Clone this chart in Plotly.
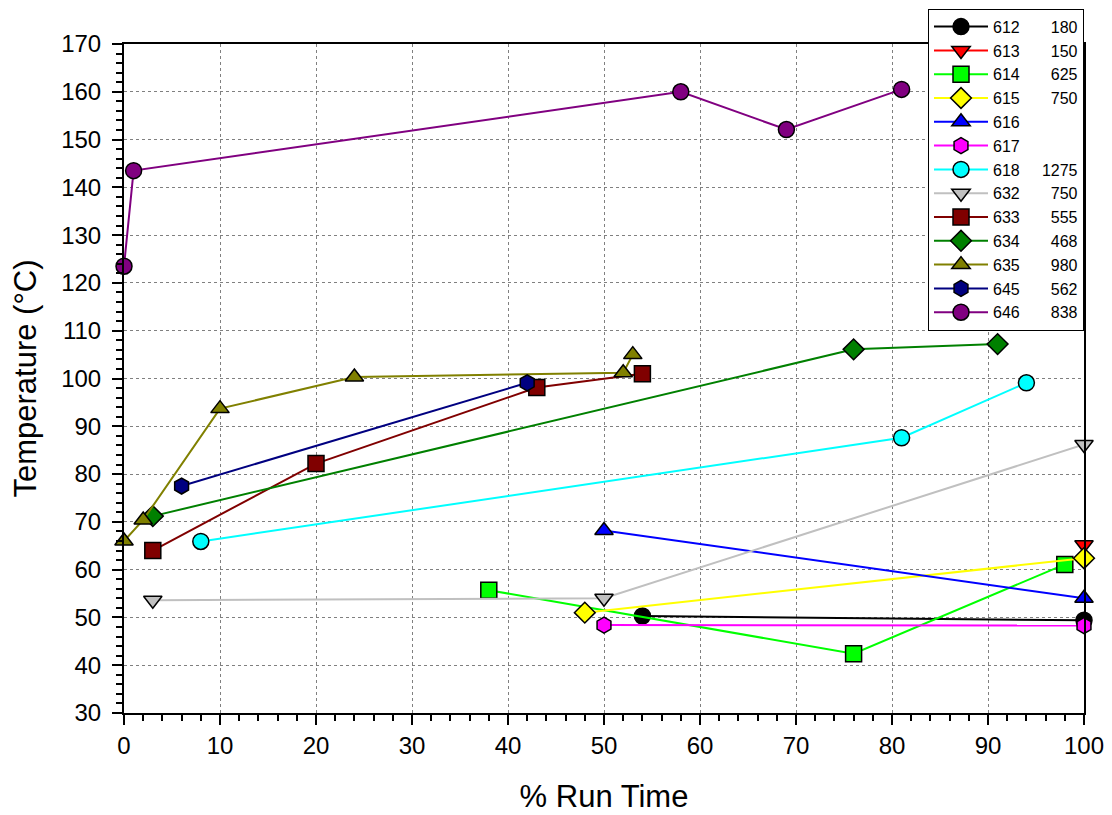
import plotly.graph_objects as go

# ---- data ----
ids = ["612", "613", "614", "615", "616", "617", "618", "632", "633", "634", "635", "645", "646"]
extra = ["180", "150", "625", "750", "", "", "1275", "750", "555", "468", "980", "562", "838"]

x612 = [54, 100];            y612 = [50.3, 49.4]
x613 = [100];                y613 = [65.2]
x614 = [38, 76, 98];         y614 = [55.7, 42.4, 61.1]
x615 = [48, 100];            y615 = [51.0, 62.4]
x616 = [50, 100];            y616 = [68.2, 54.0]
x617 = [50, 100];            y617 = [48.4, 48.3]
x618 = [8, 81, 94];          y618 = [65.9, 87.6, 99.1]
x632 = [3, 50, 100];         y632 = [53.6, 54.0, 86.2]
x633 = [3, 20, 43, 54];      y633 = [64.0, 82.2, 98.1, 101.0]
x634 = [3, 76, 91];          y634 = [71.2, 106.1, 107.2]
x635 = [0, 2, 10, 24, 52, 53]; y635 = [66.0, 70.4, 93.7, 100.3, 101.2, 105.0]
x645 = [6, 42];              y645 = [77.5, 99.1]
x646 = [0, 1, 58, 69, 81];   y646 = [123.5, 143.5, 160.0, 152.1, 160.5]

xs = [x612, x613, x614, x615, x616, x617, x618, x632, x633, x634, x635, x645, x646]
ys = [y612, y613, y614, y615, y616, y617, y618, y632, y633, y634, y635, y645, y646]

colors = ["#000000", "#FF0000", "#00FF00", "#FFFF00", "#0000FF", "#FF00FF", "#00FFFF",
          "#C0C0C0", "#800000", "#008000", "#808000", "#000080", "#800080"]
symbols = ["circle", "triangle-down", "square", "diamond", "triangle-up", "hexagon", "circle",
           "triangle-down", "square", "diamond", "triangle-up", "hexagon", "circle"]

FONT = "Liberation Sans, Arial, sans-serif"
FS = "\u2007"  # figure space (digit width)

fig = go.Figure()
for i in range(len(ids)):
    name = ids[i] + "\u00a0" * 5 + extra[i].rjust(4, FS) if extra[i] else ids[i]
    fig.add_trace(go.Scatter(
        x=xs[i], y=ys[i], mode="lines+markers", name=name, cliponaxis=False,
        line=dict(color=colors[i], width=2),
        marker=dict(symbol=symbols[i], size=16, color=colors[i],
                    line=dict(color="black", width=1.5)),
    ))

fig.update_layout(
    width=1112, height=815,
    margin=dict(l=116, r=36, t=0, b=110),
    paper_bgcolor="white", plot_bgcolor="white",
    font=dict(family=FONT, color="black"),
    showlegend=True,
    legend=dict(
        x=1.0, xanchor="right", y=0.999, yanchor="top",
        bgcolor="white", bordercolor="black", borderwidth=1,
        font=dict(size=16, family=FONT, color="black"),
        tracegroupgap=0, itemwidth=54,
    ),
)

fig.update_xaxes(
    range=[0, 100], tickmode="linear", tick0=0, dtick=10,
    automargin=False,
    showline=True, linecolor="black", linewidth=2, mirror=True,
    ticks="outside", ticklen=10, tickwidth=2, tickcolor="black",
    minor=dict(dtick=2, ticks="outside", ticklen=6, tickwidth=2, tickcolor="black", showgrid=False),
    showgrid=True, gridcolor="#808080", griddash="dot", gridwidth=1,
    zeroline=False,
    tickfont=dict(size=24, family=FONT, color="black"),
    title=dict(text="% Run Time", font=dict(size=31, family=FONT, color="black"), standoff=28),
)
fig.update_yaxes(
    domain=[0, 669 / 705],
    range=[30, 170], tickmode="linear", tick0=30, dtick=10,
    automargin=False,
    showline=True, linecolor="black", linewidth=2, mirror=True,
    ticks="outside", ticklen=10, tickwidth=2, tickcolor="black",
    minor=dict(dtick=2, ticks="outside", ticklen=6, tickwidth=2, tickcolor="black", showgrid=False),
    showgrid=True, gridcolor="#808080", griddash="dot", gridwidth=1,
    zeroline=False, ticklabelstandoff=6,
    tickfont=dict(size=24, family=FONT, color="black"),
    title=dict(text="Temperature (°C)", font=dict(size=31, family=FONT, color="black"), standoff=16),
)

fig.write_html("out.html")
